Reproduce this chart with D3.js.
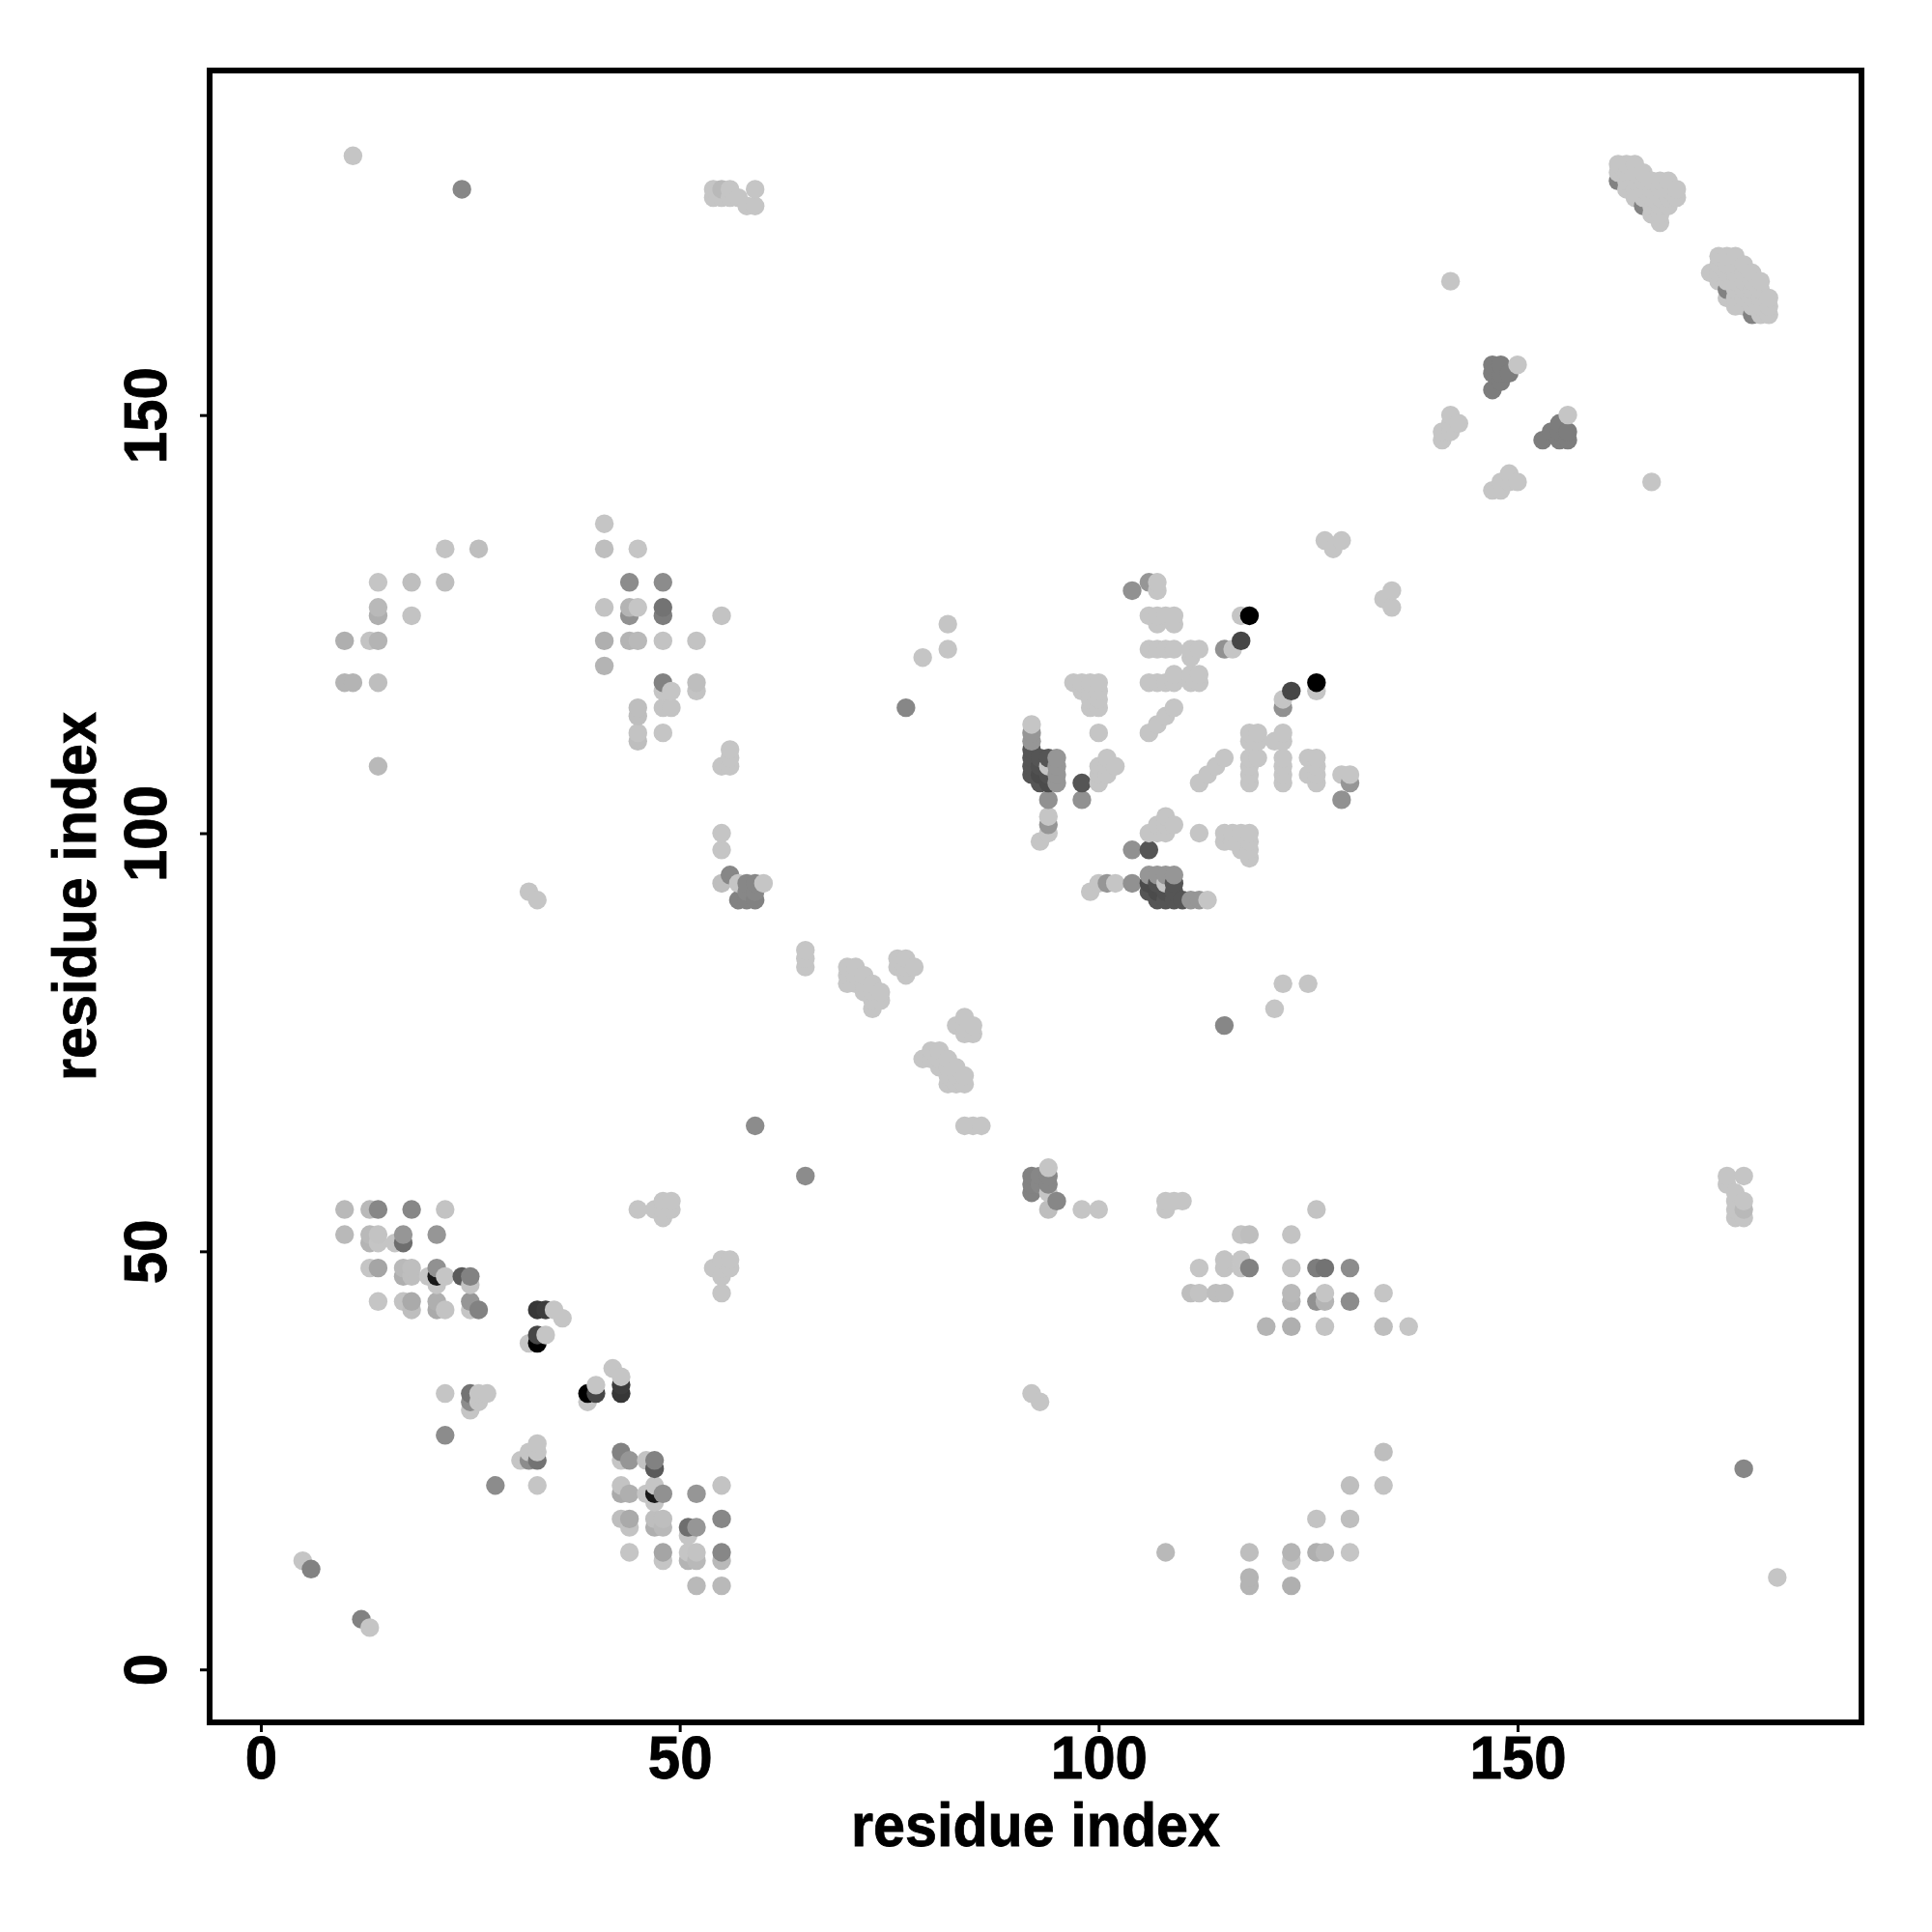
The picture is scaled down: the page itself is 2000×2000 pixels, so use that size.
<!DOCTYPE html>
<html><head><meta charset="utf-8">
<script src="https://cdnjs.cloudflare.com/ajax/libs/d3/7.8.5/d3.min.js"></script>
<style>html,body{margin:0;padding:0;background:#fff}svg{display:block}</style>
</head><body><div id="chart"></div>
<script>
// [residue i, residue j, weight]; omitted weight = 0 (weakest contact). Contact map is symmetric: each pair is plotted at (i,j) and (j,i).
const contactsA = [
[5,13],[6,12,67],[10,52,12],[10,55,12],[13,48],[13,51,17],[13,52,12],[13,55,12],[14,44],[14,48,32],[14,51],[14,52,2],[14,55,62],
[16,51],[17,44,2],[17,47,22],[17,48,12],[17,51,87],[17,52,47],[18,43,7],[18,44,27],[18,47,7],[18,48,7],[18,55,62],[20,47],
[21,43,27],[21,44,22],[21,46],[21,47,172],[21,48,52],[21,52,47],[22,28,57],[22,33],[22,43,2],[22,47],[22,55,2],[24,47,107],
[25,31],[25,32,57],[25,33,82],[25,43],[25,44,47],[25,46,2],[25,47,67],[26,32],[26,33],[26,43,67],[27,33],[32,39],[33,39,197],
[33,40,127],[34,40],[33,43,142],[34,43,137],[35,43],[36,42],[45,55],[47,55],[48,54],[48,55],[48,56],[49,55],[49,56],[59,65,57]
];
const contactsB = [
[10,118,17],[10,123,22],[11,118,17],[13,123,2],[14,108,12],[14,118,7],[14,123,17],[14,126,22],[14,127,12],[14,130],[18,126,2],
[18,130,7],[22,130,7],[22,134,2],[26,134,7],[32,93],[33,92],[41,120,17],[41,123,22],[41,127,2],[41,134,7],[41,137],
[44,123,17],[44,126,52],[44,127,17],[44,130,57],[45,111,7],[45,112,2],[45,114,7],[45,115,7],[45,123,12],[45,127],[45,134],
[48,112],[48,115,2],[48,117],[48,118,67],[48,123,2],[48,126,72],[48,127,82],[48,130,57],[49,115,2],[49,117],
[52,117,2],[52,118,7],[52,123,2],[55,94,7],[55,98],[55,100],[55,108],[55,126,2],[56,95,62],[56,108],[56,109],[56,110],
[57,92,67],[57,94],[58,92,67],[58,93,62],[58,94,62],[59,92,67],[59,93,62],[59,94,62],[60,94],
[11,181],[24,177,62],[54,176],[54,177],[55,176],[55,177,12],[56,176],[56,177],[57,176],[58,175],[59,175],[59,177]
];
const contactsC = [
[65,84],[65,85],[65,86],[70,82],[70,83],[70,84],[71,82],[71,83],[71,84],[72,81],[72,82],[72,83],[73,79],[73,80],[73,81],[73,82],
[74,80],[74,81],[76,84],[76,85],[77,83],[77,84],[77,85],[78,84],[77,115,62],[79,121],[82,122],[82,125]
];
const contactsD = [
[92,107,112],[92,108,112],[92,109,112],[92,110,112],[92,111,47],[92,112,47],[92,113],
[93,99],[93,106,112],[93,107,122],[93,108,117],[93,109,112],
[94,100],[94,101,47],[94,102],[94,104,52],[94,106,122],[94,107,117],[94,108],[94,109,112],
[95,106,47],[95,107,47],[95,108,47],[95,109,47],
[97,118],[98,104,52],[98,106,112],[98,117],[98,118],[99,115],[99,116],[99,117],[99,118],
[100,106],[100,107],[100,108],[100,112],[100,115],[100,116],[100,117],[100,118],
[101,107],[101,108],[101,109],[102,108],[104,129,52],[106,112],[106,118],[106,122],[106,126],[106,130,47],
[107,113],[107,118],[107,122],[107,125],[107,126],[107,129],[107,130],
[108,114],[108,118],[108,122],[108,126],[109,115],[109,118],[109,119],[109,122],[109,125],[109,126],
[111,118],[111,119],[111,121],[111,122],[112,118],[112,119],[112,122],
[115,122,52],[116,122],[117,123,127],[117,126],[118,126,197],[127,135],[128,134],[129,135]
];
const contactsE = [
[141,147],[141,148],[142,148],[142,149],[142,150],[143,149],[142,166],
[147,153,72],[147,155,72],[147,156,72],[148,154,72],[148,155,72],[148,156,72],[149,155,72],[150,156]
];
// C-terminal clusters, read separately on each side of the diagonal
const clusterUpper = [
[162,178,67],[162,179],[162,180],[163,177],[163,178],[163,179],[163,180],[164,176],[164,177],[164,178],[164,179],[164,180],
[165,175,67],[165,176],[165,177],[165,178],[165,179],[166,174],[166,175],[166,176],[166,177],[166,178],
[167,173],[167,174],[167,175],[167,176],[167,177],[167,178],[168,175],[168,176],[168,177],[168,178],[169,176],[169,177]
];
const clusterLower = [
[173,167],[174,166],[174,167],[174,168],[174,169],[175,164],[175,165,67],[175,166],[175,167],[175,168],[175,169],
[176,163],[176,164],[176,165],[176,166],[176,167],[176,168],[176,169],[177,163],[177,164],[177,165],[177,166],[177,167],[177,168],
[178,162,67],[178,163],[178,164],[178,165],[178,166],[178,167],[179,162],[179,163],[179,164],[179,165],[179,166],[180,162],[180,163],[180,164]
];
const xTicks = [0,50,100,150];
const yTicks = [0,50,100,150];
const xLabel = "residue index";
const yLabel = "residue index";

const W=2000,H=2000,L=217,R=1927,T=73,B=1783;
const svg=d3.select("#chart").append("svg").attr("width",W).attr("height",H).style("font-family","'Liberation Sans',Arial,sans-serif").style("font-weight","bold");
const x=d3.scaleLinear().domain([-6.11,191.05]).range([L,R]);
const y=d3.scaleLinear().domain([-6.33,191.2]).range([B,T]);
const shade=d3.scaleLinear().domain([0,197]).range(["#c5c5c5","#000000"]);

const mirrored=[...contactsA,...contactsB,...contactsC,...contactsD,...contactsE];
const points=[];
mirrored.forEach(([i,j,w=0])=>{points.push({i,j,w});points.push({i:j,j:i,w});});
[...clusterUpper,...clusterLower].forEach(([i,j,w=0])=>points.push({i,j,w}));
points.sort((a,b)=>d3.ascending(a.i,b.i)||d3.ascending(a.j,b.j));

svg.append("g").selectAll("circle").data(points).join("circle")
  .attr("cx",d=>x(d.i)).attr("cy",d=>y(d.j)).attr("r",9.7).attr("fill",d=>shade(d.w));

const FS=62.5, squeeze=0.96;
const tickLen=d=>String(d).length*0.556*FS*squeeze;
const gx=svg.append("g").attr("transform",`translate(0,${B})`)
  .call(d3.axisBottom(x).tickValues(xTicks).tickSize(10).tickFormat(d3.format("d")));
const gy=svg.append("g").attr("transform",`translate(${L},0)`)
  .call(d3.axisLeft(y).tickValues(yTicks).tickSize(10).tickFormat(d3.format("d")));
[gx,gy].forEach(g=>{g.select(".domain").remove();g.selectAll("line").attr("stroke","#000").attr("stroke-width",3);});
gx.selectAll("text").attr("dy",null).attr("text-anchor","middle")
  .attr("y",58).attr("fill","#000").style("font-size",FS+"px").attr("stroke","#000").attr("stroke-width",0.8)
  .attr("textLength",tickLen).attr("lengthAdjust","spacingAndGlyphs");
gy.selectAll("text").attr("x",null).attr("dy",null).attr("fill","#000").style("font-size",FS+"px").attr("stroke","#000").attr("stroke-width",0.8)
  .attr("text-anchor","middle").attr("transform",`translate(${172-L},0) rotate(-90)`)
  .attr("textLength",tickLen).attr("lengthAdjust","spacingAndGlyphs");

svg.append("rect").attr("x",L).attr("y",T).attr("width",R-L).attr("height",B-T).attr("fill","none").attr("stroke","#000").attr("stroke-width",6);
const titleLen=382;
svg.append("text").attr("x",(L+R)/2).attr("y",1911).attr("text-anchor","middle").style("font-size",FS+"px").attr("stroke","#000").attr("stroke-width",0.8)
  .attr("textLength",titleLen).attr("lengthAdjust","spacingAndGlyphs").text(xLabel);
svg.append("text").attr("transform",`translate(99,${(T+B)/2}) rotate(-90)`).attr("text-anchor","middle").style("font-size",FS+"px").attr("stroke","#000").attr("stroke-width",0.8)
  .attr("textLength",titleLen).attr("lengthAdjust","spacingAndGlyphs").text(yLabel);
</script></body></html>
